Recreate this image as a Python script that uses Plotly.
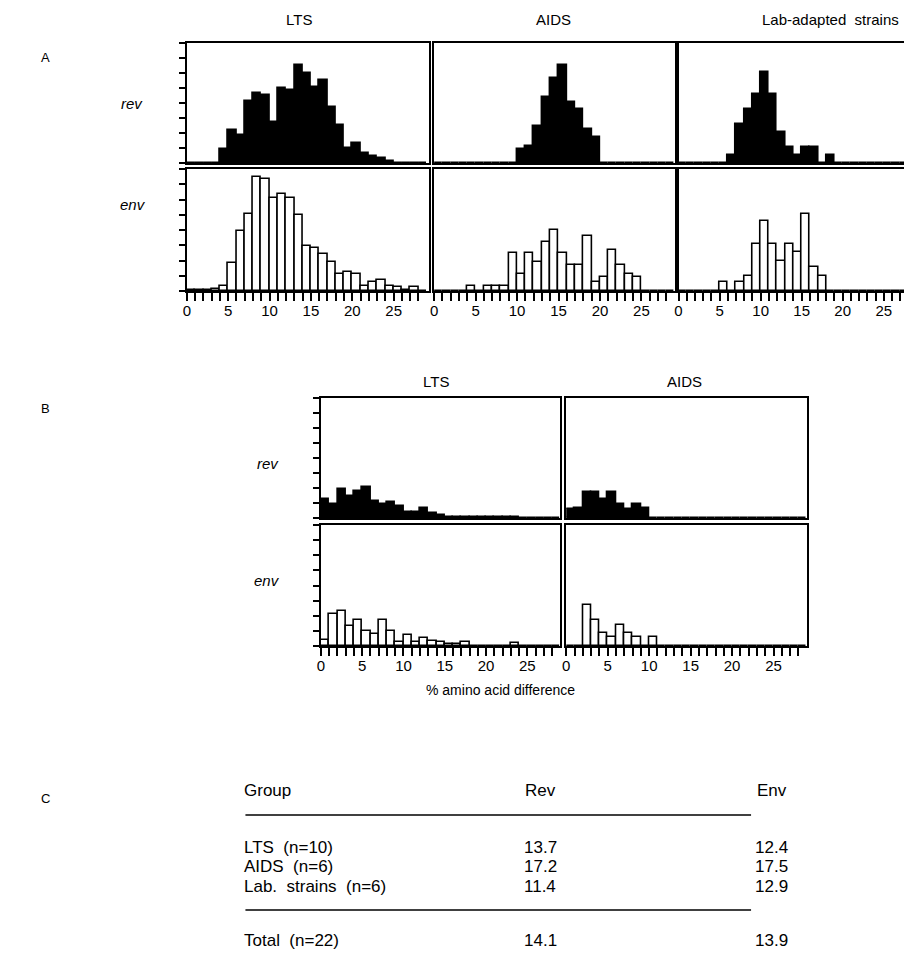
import plotly.graph_objects as go

# The page body adds an 8px margin, so the figure is drawn 8px smaller and
# all reference pixel positions are shifted by that offset.
OFF = 8
W, H = 912 - OFF, 960 - OFF
FONT = "Liberation Sans"

# ---------------- data (heights per 1% bin, bins 0..28) ----------------
bins = list(range(29))

lts_rev_A = [0, 0, 0, 0, 0.93, 2.18, 1.89, 4.16, 4.67, 4.53, 2.73, 5.0, 4.84, 6.56, 5.98,
             5.07, 5.53, 3.73, 2.51, 1.0, 1.33, 0.67, 0.49, 0.33, 0.11, 0, 0, 0, 0]
aids_rev_A = [0, 0, 0, 0, 0, 0, 0, 0, 0, 0, 0.93, 1.16, 2.5, 4.4, 5.7, 6.53, 4.1, 3.6, 2.27,
              1.71, 0, 0, 0, 0, 0, 0, 0, 0, 0]
lab_rev_A = [0, 0, 0, 0, 0, 0, 0.56, 2.6, 3.6, 4.6, 6.1, 4.6, 2.04, 1.04, 0.53, 1.04, 1.04,
             0, 0.53, 0, 0, 0, 0, 0, 0, 0, 0, 0, 0]
lts_env_A = [0.06, 0.06, 0.06, 0.13, 0.33, 1.84, 3.96, 5.07, 7.47, 7.36, 6.13, 6.33, 6.1,
             4.96, 2.96, 2.84, 2.4, 1.9, 1.13, 1.24, 1.13, 0.3, 0.58, 0.69, 0.36, 0.24,
             0.05, 0.27, 0]
aids_env_A = [0, 0, 0, 0, 0.36, 0, 0.36, 0.36, 0.36, 2.47, 1.1, 2.47, 1.9, 3.24, 4.0, 2.47,
              1.69, 1.69, 3.6, 0.58, 0.9, 2.67, 1.69, 1.13, 0.9, 0, 0, 0, 0]
lab_env_A = [0, 0, 0, 0, 0, 0.58, 0, 0.58, 1.0, 3.07, 4.6, 3.07, 2.0, 3.07, 2.58, 5.07,
             1.56, 1.0, 0, 0, 0, 0, 0, 0, 0, 0, 0, 0, 0]

lts_rev_B = [1.27, 0.93, 1.93, 1.47, 1.82, 2.04, 1.16, 0.93, 1.04, 0.8, 0.4, 0.4, 0.67,
             0.33, 0.2, 0.1, 0.05, 0.05, 0.05, 0.05, 0.05, 0.05, 0.05, 0.05, 0, 0, 0, 0, 0]
aids_rev_B = [0.6, 0.65, 1.76, 1.76, 1.27, 1.76, 0.93, 0.6, 0.93, 0.67, 0, 0, 0, 0, 0, 0,
              0, 0, 0, 0, 0, 0, 0, 0, 0, 0, 0, 0, 0]
lts_env_B = [0.4, 2.13, 2.29, 1.29, 1.73, 0.96, 0.8, 1.73, 0.96, 0.29, 0.73, 0.24, 0.51,
             0.36, 0.24, 0.13, 0.13, 0.27, 0, 0, 0, 0, 0, 0.18, 0, 0, 0, 0, 0]
aids_env_B = [0, 0, 2.69, 1.73, 0.89, 0.58, 1.36, 0.89, 0.58, 0, 0.58, 0, 0, 0, 0, 0, 0,
              0, 0, 0, 0, 0, 0, 0, 0, 0, 0, 0, 0]

tick_label_vals = [0, 5, 10, 15, 20, 25]

col_titles_A = ["LTS", "AIDS", "Lab-adapted  strains"]
col_titles_B = ["LTS", "AIDS"]
row_labels = ["rev", "env"]

table_header = ["Group", "Rev", "Env"]
table_groups = ["LTS  (n=10)", "AIDS  (n=6)", "Lab.  strains  (n=6)"]
table_rev = ["13.7", "17.2", "11.4"]
table_env = ["12.4", "17.5", "12.9"]
total_row = ["Total  (n=22)", "14.1", "13.9"]

# ---------------- layout helpers ----------------
def X(p):
    return (p - OFF) / W

def Y(p):
    return 1 - (p - OFF) / H

# panels: (values, filled, x0, x1, y0, y1, xmax, left_ticks, bottom_axis)
panels = [
    (lts_rev_A, True, 184, 428, 43, 163, 29.3, True, False),
    (aids_rev_A, True, 433, 675, 43, 163, 29.0, False, False),
    (lab_rev_A, True, 679, 914, 43, 163, 28.2, False, False),
    (lts_env_A, False, 184, 428, 169, 291, 29.3, True, True),
    (aids_env_A, False, 433, 675, 169, 291, 29.0, False, True),
    (lab_env_A, False, 679, 914, 169, 291, 28.2, False, True),
    (lts_rev_B, True, 319, 560, 398, 518, 29.0, True, False),
    (aids_rev_B, True, 566, 808, 398, 518, 29.0, False, False),
    (lts_env_B, False, 319, 560, 525, 646, 29.0, True, True),
    (aids_env_B, False, 566, 808, 525, 646, 29.0, False, True),
]

fig = go.Figure()
layout = dict(
    width=W, height=H, margin=dict(l=0, r=0, t=0, b=0),
    paper_bgcolor="white", plot_bgcolor="white", showlegend=False,
    bargap=0, font=dict(family=FONT, color="black"),
)

for i, (vals, filled, x0, x1, y0, y1, xmax, lticks, baxis) in enumerate(panels):
    n = i + 1
    xa = "xaxis" if n == 1 else f"xaxis{n}"
    ya = "yaxis" if n == 1 else f"yaxis{n}"
    xr = "x" if n == 1 else f"x{n}"
    yr = "y" if n == 1 else f"y{n}"
    fig.add_trace(go.Bar(
        x=[b + 0.5 for b in bins], y=vals, width=[1] * len(bins),
        marker=dict(color="black" if filled else "white",
                    line=dict(color="black", width=1.6)),
        xaxis=xr, yaxis=yr, hoverinfo="skip",
    ))
    ticktext = [str(b) if (b in tick_label_vals and baxis) else "" for b in bins]
    layout[xa] = dict(
        domain=[X(x0), min(X(x1), 1)], anchor=yr, range=[0, xmax],
        showgrid=False, zeroline=False, showline=True, mirror=True,
        linecolor="black", linewidth=2,
        tickmode="array", tickvals=bins if baxis else [], ticktext=ticktext,
        ticks="outside" if baxis else "", ticklen=8, tickwidth=2, tickcolor="black",
        tickfont=dict(family=FONT, size=15, color="black"),
        ticklabelstandoff=-3,
        fixedrange=True,
    )
    layout[ya] = dict(
        domain=[Y(y1), Y(y0)], anchor=xr, range=[0, 8],
        showgrid=False, zeroline=False, showline=True, mirror=True,
        linecolor="black", linewidth=2,
        tickmode="linear", tick0=0, dtick=1,
        ticks="outside" if lticks else "", ticklen=6, tickwidth=1.5, tickcolor="black",
        showticklabels=False, fixedrange=True,
    )

annotations = []

def txt(s, x, y, size=15, italic=False, anchor="center"):
    annotations.append(dict(
        text=f"<i>{s}</i>" if italic else s, x=X(x), y=Y(y), xref="paper", yref="paper",
        showarrow=False, xanchor=anchor, yanchor="middle",
        font=dict(family=FONT, size=size, color="black"),
    ))

# panel letters
txt("A", 42, 57, 13)
txt("B", 42, 408, 13)
txt("C", 42, 798, 13)

# column titles
for t, xc in zip(col_titles_A, [297, 553, 832]):
    txt(t, xc, 20, 15)
for t, xc in zip(col_titles_B, [435, 685]):
    txt(t, xc, 382, 15)

# row labels
txt(row_labels[0], 129, 104, 15, italic=True)
txt(row_labels[1], 130, 205, 15, italic=True)
txt(row_labels[0], 266, 463, 15, italic=True)
txt(row_labels[1], 265, 580, 15, italic=True)

txt("% amino acid difference", 500, 690, 14)

# table C
TS = 17
txt(table_header[0], 240, 790, TS, anchor="left")
txt(table_header[1], 540, 790, TS)
txt(table_header[2], 773, 790, TS)
for g, r, e, yy in zip(table_groups, table_rev, table_env, [847, 866, 886]):
    txt(g, 240, yy, TS, anchor="left")
    txt(r, 540, yy, TS)
    txt(e, 773, yy, TS)
txt(total_row[0], 240, 940, TS, anchor="left")
txt(total_row[1], 540, 940, TS)
txt(total_row[2], 773, 940, TS)

shapes = [
    dict(type="line", xref="paper", yref="paper", x0=X(243), x1=X(752), y0=Y(815), y1=Y(815),
         line=dict(color="black", width=1.5)),
    dict(type="line", xref="paper", yref="paper", x0=X(243), x1=X(752), y0=Y(910), y1=Y(910),
         line=dict(color="black", width=1.5)),
]

layout["annotations"] = annotations
layout["shapes"] = shapes
fig.update_layout(**layout)

fig.write_html("out.html")
